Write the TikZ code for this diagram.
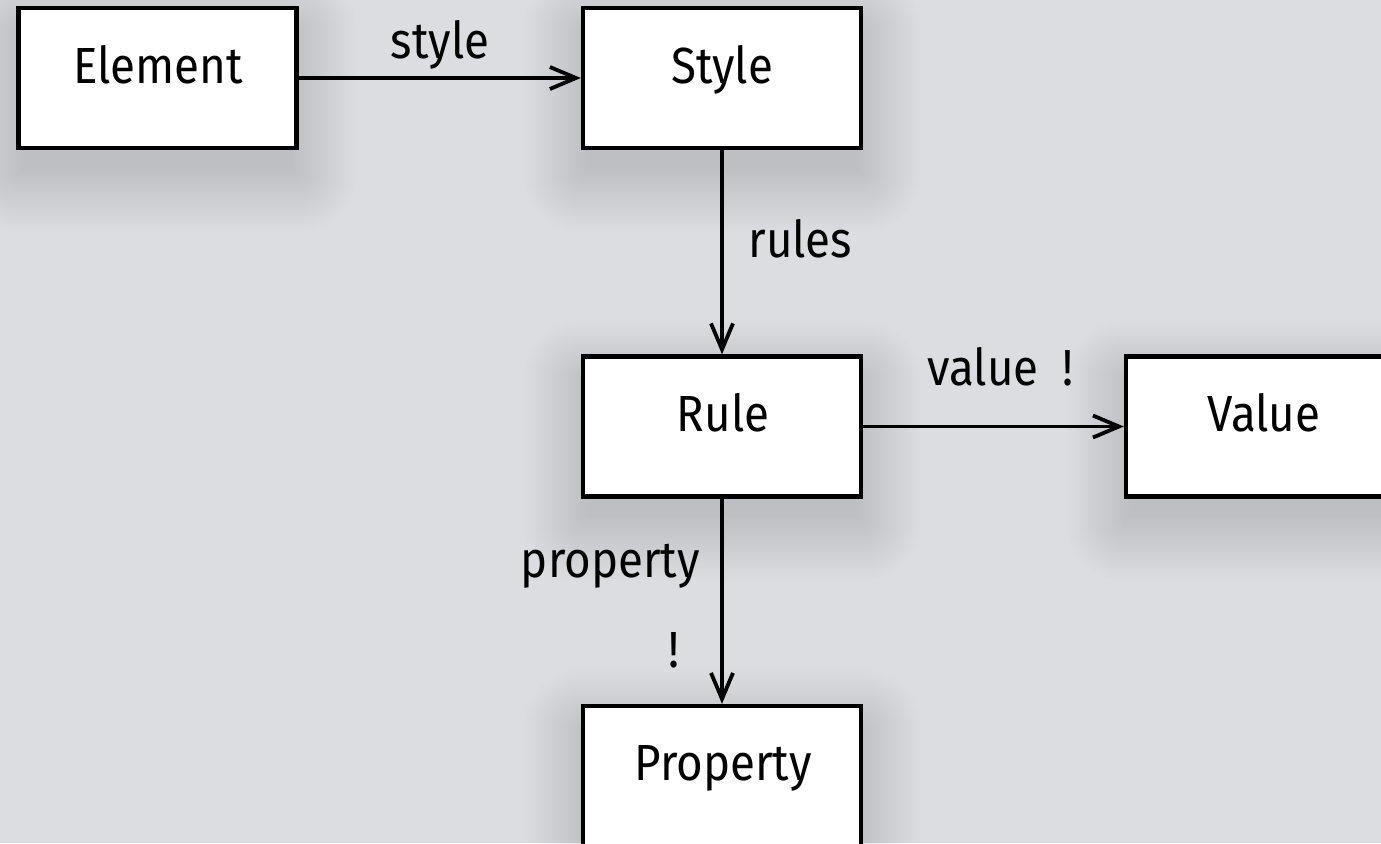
\documentclass[tikz,border=0pt]{standalone}
\usepackage{fontspec}
\setmainfont{Fira Sans}[FakeStretch=0.9]
\usetikzlibrary{arrows.meta,calc,backgrounds}
\definecolor{bgc}{RGB}{220,221,224}
\newcommand\softshadow[1]{%
  \foreach \i in {0,...,29}{%
    \pgfmathsetmacro\e{58-2.2*\i}%
    \pgfmathsetmacro\rc{max(\e,0.2)*0.5}%
    \fill[black,opacity=0.0032,rounded corners=\rc pt]
      ($(#1.south west)+(-\e,24+\e)$) rectangle ($(#1.north east)+(\e,24-\e)$);
  }}
\begin{document}
\begin{tikzpicture}[x=0.5pt,y=-0.5pt,
  box/.style={draw=black,line width=2.2pt,fill=white,rectangle,inner sep=0pt,
    minimum width=139pt,minimum height=70pt},
  txt/.style={font=\fontsize{25.4pt}{30pt}\selectfont,inner sep=0pt,anchor=base},
  arr/.style={line width=1.9pt,-{Straight Barb[length=13pt,width=11pt,line width=1.9pt]}}]
\useasboundingbox (0,0) rectangle (1381,843);
\node[box] (element) at (157.5,78) {};
\node[box] (style) at (722,78) {};
\node[box] (rule) at (722,426.5) {};
\node[box] (value) at (1265,426.5) {};
\node[box] (property) at (722,776) {};
\begin{scope}[on background layer]
  \fill[bgc] (0,0) rectangle (1381,843);
  \softshadow{element}
  \softshadow{style}
  \softshadow{rule}
  \softshadow{value}
  \softshadow{property}
\end{scope}
\node[txt] (telement) at (158,83) {Element};
\node[txt] (tstyle) at (722,83) {Style};
\node[txt] (trule) at (723,431) {Rule};
\node[txt] (tvalue) at (1264,431) {Value};
\node[txt] (tproperty) at (723,780) {Property};
\draw[arr] (element.east) -- (style.west);
\draw[arr] (style.south) -- (rule.north);
\draw[arr] (rule.east) -- (value.west);
\draw[arr] (rule.south) -- (property.north);
\node[txt] (lstyle) at (440,58) {style};
\node[txt,anchor=base west] (lrules) at (748,257) {rules};
\node[txt,anchor=base west] (lvalue) at (927,385) {value\hspace{12pt}!};
\node[txt,anchor=base east] (lproperty) at (700,577) {property};
\node[txt] (lbang) at (674,667) {!};
\end{tikzpicture}
\end{document}
